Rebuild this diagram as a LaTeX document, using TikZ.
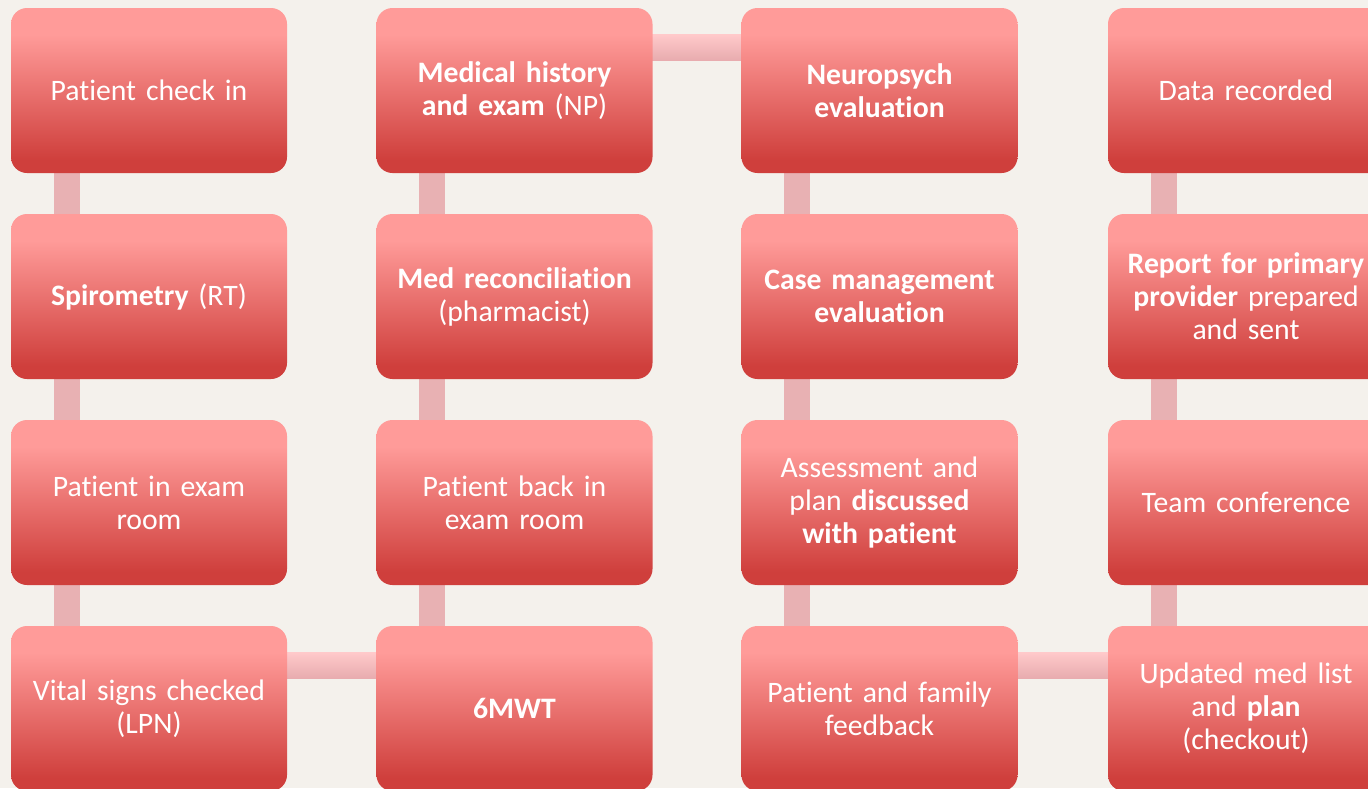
\documentclass[tikz,border=0pt]{standalone}
\usepackage{fontspec}
\setmainfont{Carlito}[Ligatures=NoCommon]
\usetikzlibrary{backgrounds}
\definecolor{bgcol}{HTML}{F4F1EC}
\definecolor{boxtop}{HTML}{FF9B99}
\definecolor{boxbot}{HTML}{CF3F3C}
\definecolor{hconntop}{HTML}{FFC9CA}
\definecolor{hconnbot}{HTML}{E7ABAE}
\definecolor{vconn}{HTML}{E8B1B3}
\pgfdeclareverticalshading{boxshade}{100bp}{color(0bp)=(boxbot); color(29bp)=(boxbot); color(67bp)=(boxtop); color(100bp)=(boxtop)}
\tikzset{
  stepbox/.style={shading=boxshade, rounded corners=16pt, minimum width=276pt, minimum height=165pt,
    inner sep=0pt, text width=272pt, align=center, text=white, font=\fontsize{29.7}{33}\selectfont},
  hconn/.style={top color=hconntop, bottom color=hconnbot},
  vconnfill/.style={fill=vconn},
}
\begin{document}
\begin{tikzpicture}[x=1pt,y=1pt]
\useasboundingbox (0,0) rectangle (1368,-788);
\begin{pgfonlayer}{background}
\fill[bgcol] (0,0) rectangle (1368,-788);
\end{pgfonlayer}
\clip (0,0) rectangle (1368,-788);
% column 1
\node[stepbox] (a1) at (149,-90.5) {Patient check in};
\node[stepbox] (a2) at (149,-296.5) {\textbf{Spirometry} (RT)};
\node[stepbox] (a3) at (149,-502.5) {Patient in exam\\room};
\node[stepbox] (a4) at (149,-708.5) {Vital signs checked\\(LPN)};
% column 2
\node[stepbox] (b1) at (514.5,-90.5) {\textbf{Medical history}\\\textbf{and exam} (NP)};
\node[stepbox] (b2) at (514.5,-296.5) {\textbf{Med reconciliation}\\(pharmacist)};
\node[stepbox] (b3) at (514.5,-502.5) {Patient back in\\exam room};
\node[stepbox] (b4) at (514.5,-708.5) {\textbf{6MWT}};
% column 3
\node[stepbox] (c1) at (879.5,-90.5) {\textbf{Neuropsych}\\\textbf{evaluation}};
\node[stepbox] (c2) at (879.5,-296.5) {\textbf{Case management}\\\textbf{evaluation}};
\node[stepbox] (c3) at (879.5,-502.5) {Assessment and\\plan \textbf{discussed}\\\textbf{with patient}};
\node[stepbox] (c4) at (879.5,-708.5) {Patient and family\\feedback};
% column 4
\node[stepbox] (d1) at (1246,-90.5) {Data recorded};
\node[stepbox] (d2) at (1246,-296.5) {\textbf{Report for primary}\\\textbf{provider} prepared\\and sent};
\node[stepbox] (d3) at (1246,-502.5) {Team conference};
\node[stepbox] (d4) at (1246,-708.5) {Updated med list\\and \textbf{plan}\\(checkout)};
% connectors
\begin{pgfonlayer}{background}
\foreach \u/\v in {a1/a2,a2/a3,a3/a4,b1/b2,b2/b3,b3/b4,c1/c2,c2/c3,c3/c4,d1/d2,d2/d3,d3/d4}{
  \fill[vconnfill] ([xshift=43pt,yshift=5pt]\u.south west) rectangle ([xshift=69pt,yshift=-5pt]\v.north west);
}
\foreach \u/\v in {a4/b4,c4/d4}{
  \shade[hconn] ([xshift=-5pt,yshift=-27pt]\u.north east) rectangle ([xshift=5pt,yshift=-53pt]\v.north west);
}
\shade[hconn] ([xshift=-5pt,yshift=-27pt]b1.north east) rectangle ([xshift=5pt,yshift=-53pt]c1.north west);
\end{pgfonlayer}
\end{tikzpicture}
\end{document}
